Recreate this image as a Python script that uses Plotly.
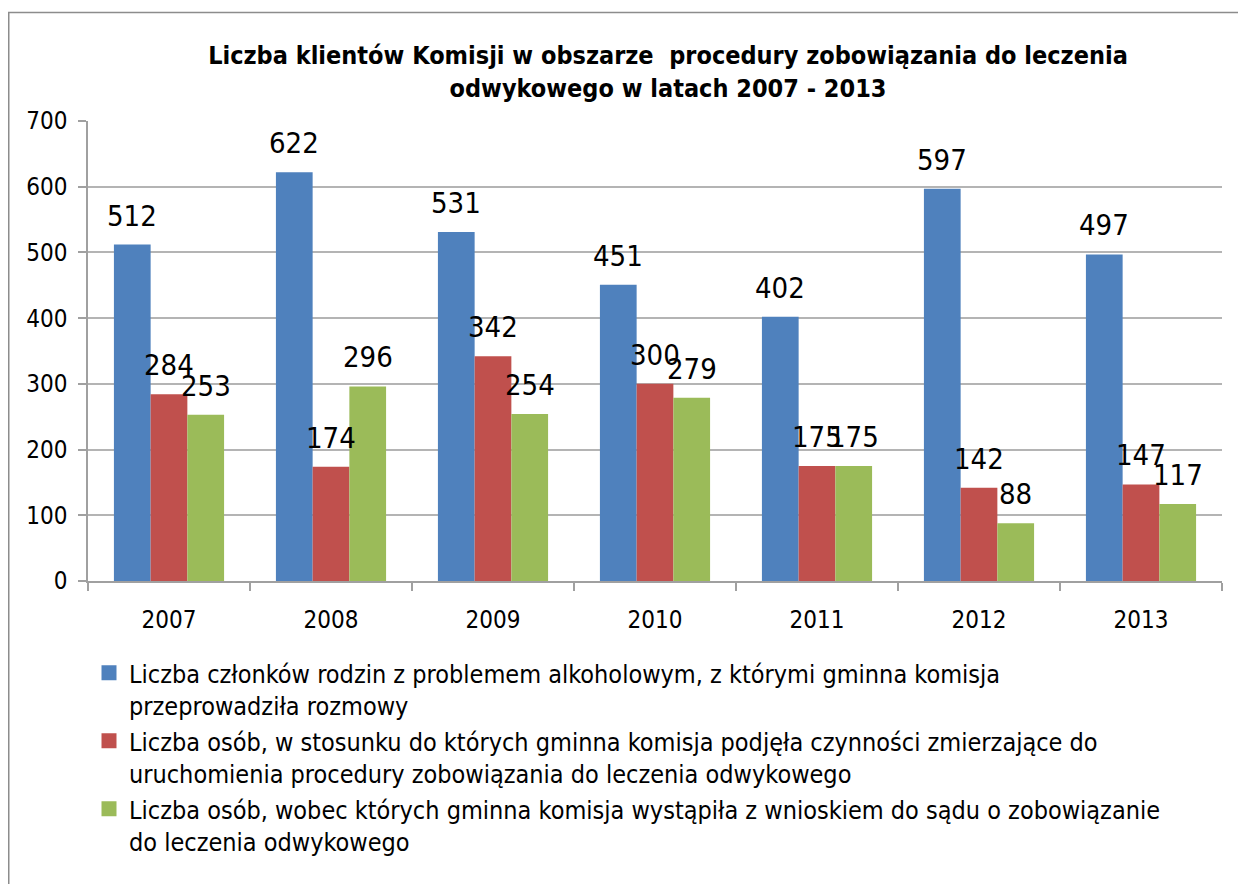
import plotly.graph_objects as go

years = ["2007", "2008", "2009", "2010", "2011", "2012", "2013"]
rozmowy = [512, 622, 531, 451, 402, 597, 497]
czynnosci = [284, 174, 342, 300, 175, 142, 147]
wnioski = [253, 296, 254, 279, 175, 88, 117]

names = [
    "Liczba członków rodzin z problemem alkoholowym, z którymi gminna komisja<br>przeprowadziła rozmowy",
    "Liczba osób, w stosunku do których gminna komisja podjęła czynności zmierzające do<br>uruchomienia procedury zobowiązania do leczenia odwykowego",
    "Liczba osób, wobec których gminna komisja wystąpiła z wnioskiem do sądu o zobowiązanie<br>do leczenia odwykowego",
]
colors = ["#4F81BD", "#C0504D", "#9BBB59"]

FONT = "DejaVu Sans Condensed, DejaVu Sans"
W, H = 1246, 884
L, R, T, B = 80, 32, 113, 311
pw, ph = W - L - R, H - T - B
BARGAP = 0.32
series = [rozmowy, czynnosci, wnioski]
bar_px = pw / len(years) * (1 - BARGAP) / len(series)

fig = go.Figure()
for vals, name, col in zip(series, names, colors):
    fig.add_trace(go.Bar(
        x=years, y=vals, name=name, marker_color=col, marker_line_width=0,
        showlegend=False,
    ))
# legend entries with larger square swatches
for name, col in zip(names, colors):
    fig.add_trace(go.Scatter(
        x=[None], y=[None], mode="markers", name=name,
        marker=dict(symbol="square", size=15, color=col, line_width=0),
    ))

# value labels above the bars (x given as category index)
for s, vals in enumerate(series):
    for i, v in enumerate(vals):
        fig.add_annotation(
            x=i, y=v, xref="x", yref="y", text=str(v), showarrow=False,
            xanchor="center", yanchor="bottom",
            xshift=(s - (len(series) - 1) / 2) * bar_px, yshift=10,
            font=dict(family=FONT, size=29, color="black"),
        )

def px_x(p):
    return (p - L) / pw

def px_y(p):
    return (H - B - p) / ph

fig.add_shape(type="rect", xref="paper", yref="paper",
              x0=px_x(0.75), x1=px_x(1270), y0=px_y(920), y1=px_y(4.5),
              line=dict(color="#8C8C8C", width=1.5), fillcolor="rgba(0,0,0,0)", layer="below")

fig.update_layout(
    width=W, height=H,
    margin=dict(l=L, r=R, t=T, b=B, autoexpand=False),
    paper_bgcolor="white", plot_bgcolor="white",
    barmode="group", bargap=BARGAP, bargroupgap=0,
    font=dict(family=FONT, color="black"),
    title=dict(
        text="<b>Liczba klientów Komisji w obszarze  procedury zobowiązania do leczenia<br>odwykowego w latach 2007 - 2013</b>",
        x=660 / W, xanchor="center", xref="container",
        y=1 - 56 / H, yanchor="middle", yref="container",
        font=dict(family=FONT, size=25, color="black"),
    ),
    xaxis=dict(
        type="category", categoryorder="array", categoryarray=years,
        range=[-0.5, len(years) - 0.5],
        showline=True, linecolor="#A0A0A0", linewidth=1.5,
        ticks="outside", tickson="boundaries", ticklen=8, tickcolor="#A0A0A0", tickwidth=1.5,
        tickfont=dict(family=FONT, size=24, color="black"), ticklabelstandoff=16,
        tickangle=0, showgrid=False,
    ),
    yaxis=dict(
        range=[0, 700], dtick=100, tick0=0,
        showline=True, linecolor="#A0A0A0", linewidth=1.5,
        ticks="outside", ticklen=8, tickcolor="#A0A0A0", tickwidth=1.5,
        tickfont=dict(family=FONT, size=24, color="black"), ticklabelstandoff=6,
        showgrid=True, gridcolor="#B4B4B4", gridwidth=1.5,
        zeroline=False,
    ),
    legend=dict(
        orientation="v", x=px_x(81), xanchor="left", y=px_y(642), yanchor="top",
        font=dict(family=FONT, size=25, color="black"), traceorder="normal",
        itemwidth=30, valign="top", itemsizing="trace",
        bgcolor="rgba(0,0,0,0)",
    ),
    showlegend=True,
)

fig.write_html("out.html")
